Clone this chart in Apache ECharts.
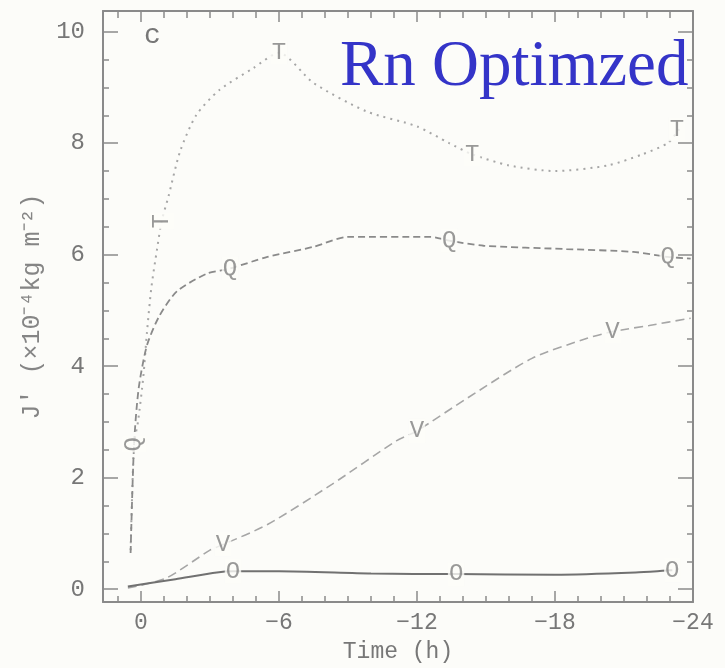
<!DOCTYPE html>
<html>
<head>
<meta charset="utf-8">
<script src="https://cdn.jsdelivr.net/npm/echarts@6/dist/echarts.min.js"></script>
<style>html,body{margin:0;padding:0;background:#fcfcf9;}#c{width:725px;height:668px;}</style>
</head>
<body>
<div id="c"></div>
<script>
// time (h), value pairs
var tSeries = [[0.45,0.7],[0.3,2.6],[0.13,3.0],[-0.1,3.8],[-0.26,4.6],[-0.45,5.4],[-0.7,6.1],[-0.9,6.6],[-1.2,7.05],[-1.7,7.85],[-2.4,8.5],[-3.4,8.95],[-4.9,9.35],[-6.0,9.62],[-7.5,9.08],[-9.8,8.57],[-12.0,8.3],[-13.4,8.0],[-14.4,7.8],[-16.0,7.6],[-18.0,7.5],[-20.3,7.6],[-21.8,7.8],[-22.9,8.0],[-23.4,8.25]];
var qSeries = [[0.45,0.65],[0.3,2.6],[0.1,3.6],[-0.26,4.37],[-0.8,4.9],[-1.56,5.34],[-2.87,5.66],[-3.87,5.75],[-5.5,5.96],[-7.5,6.14],[-9.0,6.32],[-12.6,6.32],[-13.4,6.25],[-14.9,6.16],[-18.5,6.1],[-21.4,6.05],[-22.9,5.96],[-23.9,5.93]];
var vSeries = [[0.57,0.02],[-1.1,0.2],[-3.0,0.7],[-3.57,0.8],[-5.5,1.16],[-8.3,1.88],[-11.1,2.66],[-12.0,2.84],[-14.2,3.43],[-17.0,4.14],[-19.4,4.5],[-20.5,4.62],[-22.1,4.73],[-23.9,4.86]];
var oSeries = [[0.57,0.05],[-1.5,0.18],[-3.3,0.3],[-4.0,0.32],[-6.0,0.32],[-10.0,0.28],[-13.7,0.27],[-18.0,0.26],[-21.5,0.3],[-23.1,0.34]];

var tMarks = [[-0.9,6.6],[-6.0,9.62],[-14.4,7.8],[-23.3,8.25]];
var tMarkRotate = [90,0,0,0];
var qMarks = [[0.3,2.6],[-3.87,5.75],[-13.4,6.25],[-22.9,5.96]];
var qMarkRotate = [90,0,0,0];
var vMarks = [[-3.57,0.8],[-12.0,2.84],[-20.5,4.62]];
var oMarks = [[-4.0,0.32],[-13.7,0.27],[-23.1,0.34]];

var xTicks = [0,-6,-12,-18,-24];
var yTicks = [0,2,4,6,8,10];

var chart = echarts.init(document.getElementById('c'));
var gray = '#8a8a8a';
var fontF = 'Liberation Mono';
var xMin = -24, xMax = 1.65, yMin = -0.23, yMax = 10.37;

function xAx(pos, interval, len, labels, line){
  return {type:'value', position:pos, inverse:true, min:xMin, max:xMax, interval:interval,
    axisLine:{show:line, onZero:false, lineStyle:{color:gray, width:2}},
    axisTick:{show:true, inside:true, length:len, lineStyle:{color:gray, width:1.5}},
    axisLabel:{show:labels, showMaxLabel:false, color:'#777', fontFamily:fontF, fontSize:23, margin:9,
      formatter:function(v){ return xTicks.indexOf(v)>=0 ? (v<0 ? '\u2212'+(-v) : String(v)) : ''; }},
    splitLine:{show:false},
    name: labels ? 'Time (h)' : '', nameLocation:'middle', nameGap:38,
    nameTextStyle:{color:'#777', fontFamily:fontF, fontSize:23}};
}
function yAx(pos, iv, len, labels, line){
  return {type:'value', position:pos, min:yMin, max:yMax, splitNumber: Math.round(10.6/iv), minInterval:iv, maxInterval:iv,
    axisLine:{show:line, onZero:false, lineStyle:{color:gray, width:2}},
    axisTick:{show:true, inside:true, length:len, lineStyle:{color:gray, width:1.5}},
    axisLabel:{show:labels, showMinLabel:false, showMaxLabel:false, color:'#777', fontFamily:fontF, fontSize:24, margin:18,
      formatter:function(v){ return yTicks.indexOf(v)>=0 ? String(v) : ''; }},
    splitLine:{show:false},
    name: labels ? 'J\u2032 (\u00d710\u207b\u2074kg m\u207b\u00b2)' : '', nameLocation:'middle', nameGap:58, nameRotate:90,
    nameTextStyle:{color:'#858585', fontFamily:fontF, fontSize:25}};
}

function markSeries(marks, letter, rot){
  return {type:'scatter', xAxisIndex:0, yAxisIndex:0, symbol:'circle', symbolSize:1,
    itemStyle:{color:'rgba(0,0,0,0)'}, z:5, silent:true,
    data: marks.map(function(m,i){ return {value:m, label:{rotate: rot ? rot[i] : 0}}; }),
    label:{show:true, position:'inside', formatter:letter, color:'#808080', fontFamily:fontF, fontSize:24,
      backgroundColor:'#fcfcf9', padding:[0,1]}};
}

var option = {
  backgroundColor:'#fcfcf9',
  animation:false,
  grid:{left:103, right:32, top:11, bottom:63},
  xAxis:[xAx('bottom',6,11,true,true), xAx('bottom',1,6,false,false), xAx('top',6,11,false,true), xAx('top',1,7,false,false)],
  yAxis:[yAx('left',2,15,true,true), yAx('left',0.5,6,false,false), yAx('right',2,15,false,true), yAx('right',0.5,6,false,false)],
  series:[
    {type:'line', data:tSeries, smooth:0.25, symbol:'none', lineStyle:{color:'#a6a6a6', width:2, type:[2,5]}},
    {type:'line', data:qSeries, smooth:0.25, symbol:'none', lineStyle:{color:'#8a8a8a', width:1.8, type:[7,4]}},
    {type:'line', data:vSeries, smooth:0.25, symbol:'none', lineStyle:{color:'#a6a6a6', width:1.6, type:[9,5]}},
    {type:'line', data:oSeries, smooth:0.25, symbol:'none', lineStyle:{color:'#717171', width:2}},
    markSeries(tMarks,'T',tMarkRotate),
    markSeries(qMarks,'Q',qMarkRotate),
    markSeries(vMarks,'V',null),
    markSeries(oMarks,'O',null)
  ],
  graphic:[
    {type:'text', left:144, top:22, style:{text:'c', fill:'#777', font:'28px Liberation Mono'}},
    {type:'text', left:340, top:35, style:{text:'Rn Optimzed', fill:'#3434c8', font:'65px Liberation Serif'}}
  ]
};
chart.setOption(option);
</script>
</body>
</html>
